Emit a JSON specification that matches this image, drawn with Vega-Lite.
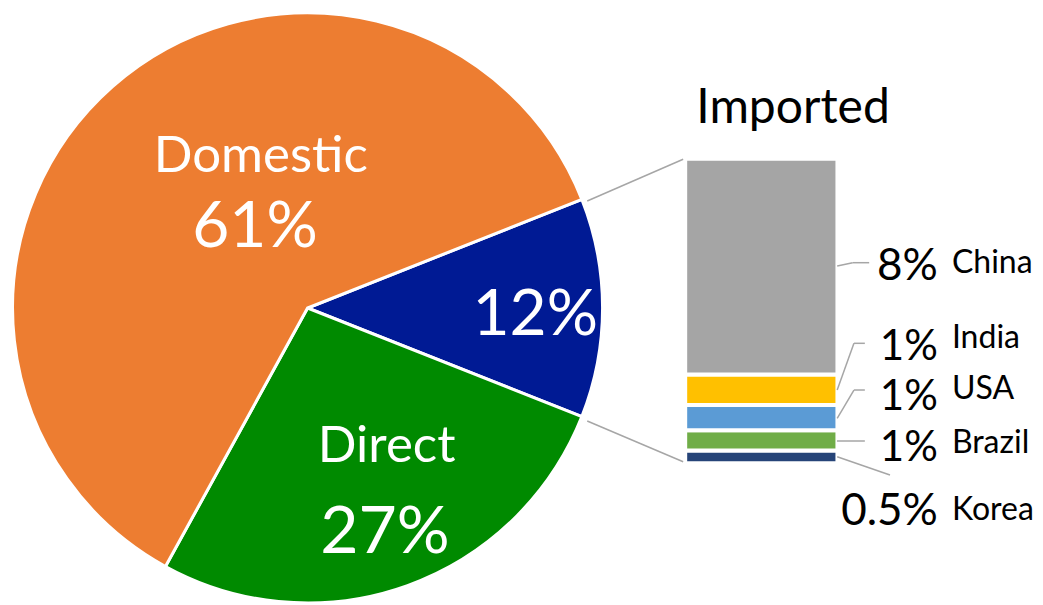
{
  "$schema": "https://vega.github.io/schema/vega-lite/v6.json",
  "width": 1043,
  "height": 605,
  "padding": 0,
  "autosize": {"type": "none"},
  "background": "white",
  "config": {"view": {"stroke": null}, "font": "Lato", "text": {"font": "Lato"}},
  "layer": [
    {
      "data": {"values": [
        {"segment": "Imported", "share": 12, "seq": 1},
        {"segment": "Direct", "share": 27, "seq": 2},
        {"segment": "Domestic", "share": 61, "seq": 3}
      ]},
      "mark": {"type": "arc", "outerRadius": 295, "stroke": "white", "strokeWidth": 3},
      "encoding": {
        "theta": {"field": "share", "type": "quantitative", "stack": true, "scale": {"range": [1.19381, 7.47699]}},
        "order": {"field": "seq", "type": "quantitative"},
        "color": {"field": "segment", "type": "nominal", "legend": null,
          "scale": {"domain": ["Domestic", "Direct", "Imported", "China", "India", "USA", "Brazil", "Korea"],
                    "range": ["#ED7D31", "#008A00", "#001A94", "#A5A5A5", "#FFC000", "#5B9BD5", "#70AD47", "#264478"]}},
        "x": {"datum": 12.12, "type": "quantitative", "axis": null, "scale": {"domain": [0, 41.1], "nice": false, "zero": false}},
        "y": {"datum": 6.12, "type": "quantitative", "axis": null, "scale": {"domain": [-5.583, 18.255], "nice": false, "zero": false}}
      }
    },
    {
      "data": {"values": [
        {"country": "Korea", "share": 0.5, "seq": 1},
        {"country": "Brazil", "share": 0.8, "seq": 2},
        {"country": "USA", "share": 1.0, "seq": 3},
        {"country": "India", "share": 1.2, "seq": 4},
        {"country": "China", "share": 8.5, "seq": 5}
      ]},
      "transform": [
        {"stack": "share", "groupby": [], "sort": [{"field": "seq", "order": "ascending"}], "as": ["y0", "y1"]}
      ],
      "mark": {"type": "bar", "stroke": "white", "strokeWidth": 4},
      "encoding": {
        "x": {"datum": 27, "type": "quantitative"},
        "x2": {"datum": 33},
        "y": {"field": "y0", "type": "quantitative"},
        "y2": {"field": "y1"},
        "color": {"field": "country", "type": "nominal", "legend": null}
      }
    },
    {"data": {"values": [{}]}, "mark": {"type": "rule", "color": "#A6A6A6", "strokeWidth": 1.5},
     "encoding": {"x": {"datum": 23.14}, "y": {"datum": 10.335}, "x2": {"datum": 26.92}, "y2": {"datum": 11.98}}},
    {"data": {"values": [{}]}, "mark": {"type": "rule", "color": "#A6A6A6", "strokeWidth": 1.5},
     "encoding": {"x": {"datum": 23.14}, "y": {"datum": 1.667}, "x2": {"datum": 26.92}, "y2": {"datum": 0.063}}},

    {"data": {"values": [{}]}, "mark": {"type": "rule", "color": "#A6A6A6", "strokeWidth": 1.5},
     "encoding": {"x": {"datum": 32.99}, "y": {"datum": 7.774}, "x2": {"datum": 33.6}, "y2": {"datum": 7.904}}},
    {"data": {"values": [{}]}, "mark": {"type": "rule", "color": "#A6A6A6", "strokeWidth": 1.5},
     "encoding": {"x": {"datum": 33.6}, "y": {"datum": 7.904}, "x2": {"datum": 34.25}, "y2": {"datum": 7.904}}},
    {"data": {"values": [{}]}, "mark": {"type": "rule", "color": "#A6A6A6", "strokeWidth": 1.5},
     "encoding": {"x": {"datum": 32.99}, "y": {"datum": 2.888}, "x2": {"datum": 33.65}, "y2": {"datum": 4.728}}},
    {"data": {"values": [{}]}, "mark": {"type": "rule", "color": "#A6A6A6", "strokeWidth": 1.5},
     "encoding": {"x": {"datum": 33.65}, "y": {"datum": 4.728}, "x2": {"datum": 34.08}, "y2": {"datum": 4.728}}},
    {"data": {"values": [{}]}, "mark": {"type": "rule", "color": "#A6A6A6", "strokeWidth": 1.5},
     "encoding": {"x": {"datum": 32.99}, "y": {"datum": 1.773}, "x2": {"datum": 33.65}, "y2": {"datum": 2.888}}},
    {"data": {"values": [{}]}, "mark": {"type": "rule", "color": "#A6A6A6", "strokeWidth": 1.5},
     "encoding": {"x": {"datum": 33.65}, "y": {"datum": 2.888}, "x2": {"datum": 34.08}, "y2": {"datum": 2.888}}},
    {"data": {"values": [{}]}, "mark": {"type": "rule", "color": "#A6A6A6", "strokeWidth": 1.5},
     "encoding": {"x": {"datum": 32.98}, "y": {"datum": 0.879}, "x2": {"datum": 34.08}, "y2": {"datum": 0.879}}},
    {"data": {"values": [{}]}, "mark": {"type": "rule", "color": "#A6A6A6", "strokeWidth": 1.5},
     "encoding": {"x": {"datum": 32.99}, "y": {"datum": 0.26}, "x2": {"datum": 35.07}, "y2": {"datum": -0.461}}},

    {"data": {"values": [{}]}, "mark": {"type": "text", "fontSize": 51, "color": "white", "align": "center", "baseline": "alphabetic"},
     "encoding": {"x": {"datum": 10.276}, "y": {"datum": 11.489}, "text": {"value": "Domestic"}}},
    {"data": {"values": [{}]}, "mark": {"type": "text", "fontSize": 64, "color": "white", "align": "center", "baseline": "alphabetic"},
     "encoding": {"x": {"datum": 10.047}, "y": {"datum": 8.534}, "text": {"value": "61%"}}},
    {"data": {"values": [{}]}, "mark": {"type": "text", "fontSize": 51, "color": "white", "align": "center", "baseline": "alphabetic"},
     "encoding": {"x": {"datum": 15.236}, "y": {"datum": 0.063}, "text": {"value": "Direct"}}},
    {"data": {"values": [{}]}, "mark": {"type": "text", "fontSize": 66, "color": "white", "align": "center", "baseline": "alphabetic"},
     "encoding": {"x": {"datum": 15.17}, "y": {"datum": -3.546}, "text": {"value": "27%"}}},
    {"data": {"values": [{}]}, "mark": {"type": "text", "fontSize": 64, "color": "white", "align": "center", "baseline": "alphabetic"},
     "encoding": {"x": {"datum": 21.09}, "y": {"datum": 5.055}, "text": {"value": "12%"}}},
    {"data": {"values": [{}]}, "mark": {"type": "text", "fontSize": 48, "color": "black", "align": "center", "baseline": "alphabetic"},
     "encoding": {"x": {"datum": 31.25}, "y": {"datum": 13.396}, "text": {"value": "Imported"}}},

    {"data": {"values": [{}]}, "mark": {"type": "text", "fontSize": 44, "color": "black", "align": "right", "baseline": "alphabetic"},
     "encoding": {"x": {"datum": 36.958}, "y": {"datum": 7.222}, "text": {"value": "8%"}}},
    {"data": {"values": [{}]}, "mark": {"type": "text", "fontSize": 42, "color": "black", "align": "right", "baseline": "alphabetic"},
     "encoding": {"x": {"datum": 36.958}, "y": {"datum": 4.08}, "text": {"value": "1%"}}},
    {"data": {"values": [{}]}, "mark": {"type": "text", "fontSize": 42, "color": "black", "align": "right", "baseline": "alphabetic"},
     "encoding": {"x": {"datum": 36.958}, "y": {"datum": 2.1}, "text": {"value": "1%"}}},
    {"data": {"values": [{}]}, "mark": {"type": "text", "fontSize": 42, "color": "black", "align": "right", "baseline": "alphabetic"},
     "encoding": {"x": {"datum": 36.958}, "y": {"datum": 0.1}, "text": {"value": "1%"}}},
    {"data": {"values": [{}]}, "mark": {"type": "text", "fontSize": 44, "color": "black", "align": "right", "baseline": "alphabetic"},
     "encoding": {"x": {"datum": 36.958}, "y": {"datum": -2.431}, "text": {"value": "0.5%"}}},

    {"data": {"values": [{}]}, "mark": {"type": "text", "fontSize": 32, "color": "black", "align": "left", "baseline": "alphabetic"},
     "encoding": {"x": {"datum": 37.51}, "y": {"datum": 7.51}, "text": {"value": "China"}}},
    {"data": {"values": [{}]}, "mark": {"type": "text", "fontSize": 32, "color": "black", "align": "left", "baseline": "alphabetic"},
     "encoding": {"x": {"datum": 37.51}, "y": {"datum": 4.531}, "text": {"value": "India"}}},
    {"data": {"values": [{}]}, "mark": {"type": "text", "fontSize": 32, "color": "black", "align": "left", "baseline": "alphabetic"},
     "encoding": {"x": {"datum": 37.51}, "y": {"datum": 2.522}, "text": {"value": "USA"}}},
    {"data": {"values": [{}]}, "mark": {"type": "text", "fontSize": 32, "color": "black", "align": "left", "baseline": "alphabetic"},
     "encoding": {"x": {"datum": 37.51}, "y": {"datum": 0.418}, "text": {"value": "Brazil"}}},
    {"data": {"values": [{}]}, "mark": {"type": "text", "fontSize": 32, "color": "black", "align": "left", "baseline": "alphabetic"},
     "encoding": {"x": {"datum": 37.51}, "y": {"datum": -2.234}, "text": {"value": "Korea"}}}
  ]
}
